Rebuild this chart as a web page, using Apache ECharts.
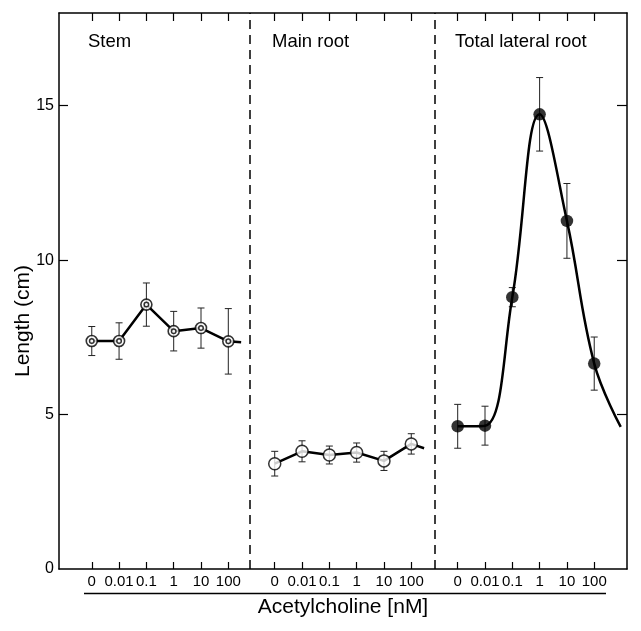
<!DOCTYPE html>
<html><head><meta charset="utf-8">
<script src="https://cdn.jsdelivr.net/npm/echarts@6/dist/echarts.min.js"></script>
<style>html,body{margin:0;padding:0;background:#fff}#c{width:641px;height:631px}</style>
</head><body><div id="c"></div>
<script>
// ---- data ----
const concLabels = ['0', '0.01', '0.1', '1', '10', '100'];
const panelTitles = ['Stem', 'Main root', 'Total lateral root'];
const yTickValues = [0, 5, 10, 15];

const stemMean = [7.38, 7.38, 8.56, 7.70, 7.80, 7.37];
const stemErr  = [0.47, 0.59, 0.70, 0.64, 0.65, 1.06];
const stemTail = 7.34;

const mainMean = [3.41, 3.81, 3.69, 3.77, 3.50, 4.05];
const mainErr  = [0.40, 0.34, 0.29, 0.31, 0.31, 0.33];
const mainTail = 3.91;

const latMean = [4.62, 4.64, 8.80, 14.72, 11.27, 6.65];
const latErr  = [0.71, 0.63, 0.31, 1.19, 1.21, 0.86];
const latTail = 4.60;

// ---- layout ----
const FONT = '"Liberation Sans", Arial, Helvetica, sans-serif';
const X_MAX = 20.8;
const panelStart = [1.2, 7.9, 14.6];
const tailX = [6.67, 13.37, 20.57];
const dividerX = [7.0, 13.77];
const titleLeft = [88, 272, 455];

function pts(p, means) { return means.map((v, i) => [panelStart[p] + i, v]); }
function linePts(p, means, tail) { return pts(p, means).concat([[tailX[p], tail]]); }
function errPts(p, means, errs) { return means.map((v, i) => [panelStart[p] + i, v - errs[i], v + errs[i]]); }

const tickVals = [];
const labelMap = {};
panelStart.forEach(s => concLabels.forEach((l, i) => {
  const v = +(s + i).toFixed(2);
  tickVals.push(v);
  labelMap[v.toFixed(2)] = l;
}));

function renderErr(params, api) {
  const x = api.value(0), lo = api.value(1), hi = api.value(2);
  const a = api.coord([x, lo]), b = api.coord([x, hi]);
  const hw = 3.5;
  const st = { stroke: '#222', lineWidth: 1 };
  return { type: 'group', children: [
    { type: 'line', shape: { x1: a[0], y1: a[1], x2: b[0], y2: b[1] }, style: st },
    { type: 'line', shape: { x1: a[0] - hw, y1: a[1], x2: a[0] + hw, y2: a[1] }, style: st },
    { type: 'line', shape: { x1: b[0] - hw, y1: b[1], x2: b[0] + hw, y2: b[1] }, style: st }
  ]};
}

function errSeries(p, means, errs) {
  return { type: 'custom', renderItem: renderErr, data: errPts(p, means, errs),
           encode: { x: 0, y: [1, 2] }, z: 1, silent: true };
}
function lineSeries(p, means, tail, smooth) {
  return { type: 'line', data: linePts(p, means, tail), showSymbol: false, smooth: smooth,
           lineStyle: { color: '#000', width: 2.5 }, z: 2, silent: true };
}

const axisLineStyle = { show: true, onZero: false, lineStyle: { color: '#000', width: 1.5 } };

const chart = echarts.init(document.getElementById('c'), null, { renderer: 'canvas' });
chart.setOption({
  animation: false,
  backgroundColor: '#fff',
  textStyle: { fontFamily: FONT },
  title: panelTitles.map((t, i) => ({
    text: t, left: titleLeft[i], top: 32, padding: 0,
    textStyle: { fontFamily: FONT, fontSize: 18.5, fontWeight: 'normal', color: '#000' }
  })),
  grid: { left: 59, right: 14, top: 13, bottom: 62, containLabel: false, outerBoundsMode: 'none' },
  xAxis: [
    { type: 'value', min: 0, max: X_MAX, position: 'bottom',
      axisLine: axisLineStyle,
      axisTick: { show: true, inside: true, length: 7, customValues: tickVals, lineStyle: { color: '#000', width: 1.2 } },
      axisLabel: { show: true, customValues: tickVals, margin: 5, fontSize: 15, color: '#000', fontFamily: FONT,
                   formatter: v => labelMap[(+v).toFixed(2)] || '' },
      splitLine: { show: false },
      name: 'Acetylcholine [nM]', nameLocation: 'middle', nameGap: 28,
      nameTextStyle: { fontSize: 21, color: '#000', fontFamily: FONT } },
    { type: 'value', min: 0, max: X_MAX, position: 'top',
      axisLine: axisLineStyle,
      axisTick: { show: true, inside: true, length: 8, customValues: tickVals, lineStyle: { color: '#000', width: 1.2 } },
      axisLabel: { show: false, customValues: tickVals },
      splitLine: { show: false } }
  ],
  yAxis: [
    { type: 'value', min: 0, max: 18, position: 'left',
      axisLine: axisLineStyle,
      axisTick: { show: true, inside: true, length: 9, customValues: [5, 10, 15], lineStyle: { color: '#000', width: 1.2 } },
      axisLabel: { show: true, customValues: yTickValues, margin: 5, fontSize: 16, color: '#000', fontFamily: FONT },
      splitLine: { show: false } },
    { type: 'value', min: 0, max: 18, position: 'right',
      axisLine: axisLineStyle,
      axisTick: { show: true, inside: true, length: 10, customValues: [5, 10, 15], lineStyle: { color: '#000', width: 1.2 } },
      axisLabel: { show: false, customValues: [5, 10, 15] },
      splitLine: { show: false } }
  ],
  graphic: [
    { type: 'line', shape: { x1: 84, y1: 593.5, x2: 606, y2: 593.5 }, style: { stroke: '#000', lineWidth: 1.5 } },
    { type: 'text', x: 23, y: 321, rotation: Math.PI / 2,
      style: { text: 'Length (cm)', font: '21px ' + FONT, fill: '#000', textAlign: 'center', textVerticalAlign: 'middle' } }
  ],
  series: [
    errSeries(0, stemMean, stemErr),
    errSeries(1, mainMean, mainErr),
    errSeries(2, latMean, latErr),
    Object.assign(lineSeries(0, stemMean, stemTail, false), {
      markLine: { symbol: 'none', silent: true, label: { show: false },
        lineStyle: { type: [9, 6], color: '#000', width: 1.5 },
        data: dividerX.map(x => ({ xAxis: x })) }
    }),
    lineSeries(1, mainMean, mainTail, false),
    lineSeries(2, latMean, latTail, 0.4),
    { type: 'scatter', data: pts(0, stemMean), symbol: 'circle', symbolSize: 11, z: 3, silent: true,
      itemStyle: { color: '#fff', borderColor: '#000', borderWidth: 1.6 } },
    { type: 'scatter', data: pts(0, stemMean), symbol: 'circle', symbolSize: 4.5, z: 4, silent: true,
      itemStyle: { color: '#fff', borderColor: '#000', borderWidth: 1.5 } },
    { type: 'scatter', data: pts(1, mainMean), symbol: 'circle', symbolSize: 12, z: 3, silent: true,
      itemStyle: { color: '#fff', borderColor: '#000', borderWidth: 1.5 } },
    { type: 'scatter', data: pts(2, latMean), symbol: 'circle', symbolSize: 12.5, z: 3, silent: true,
      itemStyle: { color: '#000', borderColor: '#000', borderWidth: 0 } }
  ]
});
</script>
</body></html>
